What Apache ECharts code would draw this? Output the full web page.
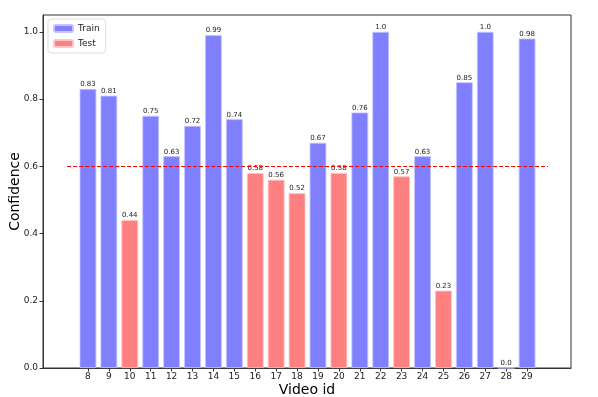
<!DOCTYPE html>
<html>
<head>
<meta charset="utf-8">
<script src="https://cdn.jsdelivr.net/npm/echarts@6/dist/echarts.min.js"></script>
<style>
  html, body { margin: 0; padding: 0; background: #fff; }
  #chart { width: 598px; height: 397px; }
</style>
</head>
<body>
<div id="chart"></div>
<script>
// video ids and confidence, split by set
var trainIds = [8, 9, 11, 12, 13, 14, 15, 19, 21, 22, 24, 26, 27, 28, 29]
var trainVals = [0.83, 0.81, 0.75, 0.63, 0.72, 0.99, 0.74, 0.67, 0.76, 1.0, 0.63, 0.85, 1.0, 0.0, 0.98]
var testIds = [10, 16, 17, 18, 20, 23, 25]
var testVals = [0.44, 0.58, 0.56, 0.52, 0.58, 0.57, 0.23]
var xTicks = [8, 9, 10, 11, 12, 13, 14, 15, 16, 17, 18, 19, 20, 21, 22, 23, 24, 25, 26, 27, 28, 29]
var yTicks = [0, 0.2, 0.4, 0.6, 0.8, 1.0]
var threshold = 0.6

var font = 'DejaVu Sans'

function pairs(ids, vals) {
    var out = []
    ids.forEach(function (id, i) { out.push([id, vals[i]]) })
    return out
}

function fmt(v) {
    return Number.isInteger(v) ? v.toFixed(1) : String(v)
}

var barLabel = {
    show: true,
    position: 'top',
    distance: 1,
    fontFamily: font,
    fontSize: 7,
    color: '#222',
    formatter: function (p) { return fmt(p.value[1]) }
}

var chart = echarts.init(document.getElementById('chart'))
chart.setOption({
    animation: false,
    grid: {
        left: 43, right: 27, top: 15, bottom: 29,
        containLabel: false,
        outerBoundsMode: 'none',
        show: true, borderColor: '#333', borderWidth: 1
    },
    legend: {
        left: 48, top: 19,
        orient: 'vertical',
        itemWidth: 19, itemHeight: 7, itemGap: 6,
        padding: [5, 6, 5, 5],
        borderColor: '#ddd', borderWidth: 1, borderRadius: 3,
        backgroundColor: 'rgba(255,255,255,0.8)',
        textStyle: { fontFamily: font, fontSize: 9, color: '#222' },
        data: ['Train', 'Test']
    },
    xAxis: {
        type: 'value',
        min: 5.85, max: 31.1,
        name: 'Video id',
        nameLocation: 'middle',
        nameGap: 15,
        nameMoveOverlap: false,
        nameTextStyle: { fontFamily: font, fontSize: 14, color: '#000' },
        splitLine: { show: false },
        axisLine: { show: true, lineStyle: { color: '#333' } },
        axisTick: { show: true, customValues: xTicks, length: 3.5, lineStyle: { color: '#333' } },
        axisLabel: { customValues: xTicks, fontFamily: font, fontSize: 9, color: '#222', margin: 4 }
    },
    yAxis: {
        type: 'value',
        min: 0, max: 1.05,
        name: 'Confidence',
        nameLocation: 'middle',
        nameGap: 21,
        nameMoveOverlap: false,
        nameTextStyle: { fontFamily: font, fontSize: 14, color: '#000' },
        splitLine: { show: false },
        axisLine: { show: true, lineStyle: { color: '#333' } },
        axisTick: { show: true, customValues: yTicks, length: 3.5, lineStyle: { color: '#333' } },
        axisLabel: {
            customValues: yTicks, fontFamily: font, fontSize: 9, color: '#222', margin: 5,
            formatter: function (v) { return v.toFixed(1) }
        }
    },
    series: [{
        name: 'Train',
        type: 'bar',
        barWidth: 16.7,
        barGap: '-100%',
        itemStyle: { color: '#8080ff', borderColor: '#c4c4ff', borderWidth: 0.8 },
        label: barLabel,
        data: pairs(trainIds, trainVals),
        markLine: {
            silent: true,
            symbol: 'none',
            label: { show: false },
            lineStyle: { color: '#ff0000', type: [4, 2], width: 1 },
            data: [[{ coord: [7, threshold] }, { coord: [30, threshold] }]]
        }
    }, {
        name: 'Test',
        type: 'bar',
        barWidth: 16.7,
        barGap: '-100%',
        itemStyle: { color: '#ff8080', borderColor: '#ffc4c4', borderWidth: 0.8 },
        label: barLabel,
        data: pairs(testIds, testVals)
    }]
})
</script>
</body>
</html>
